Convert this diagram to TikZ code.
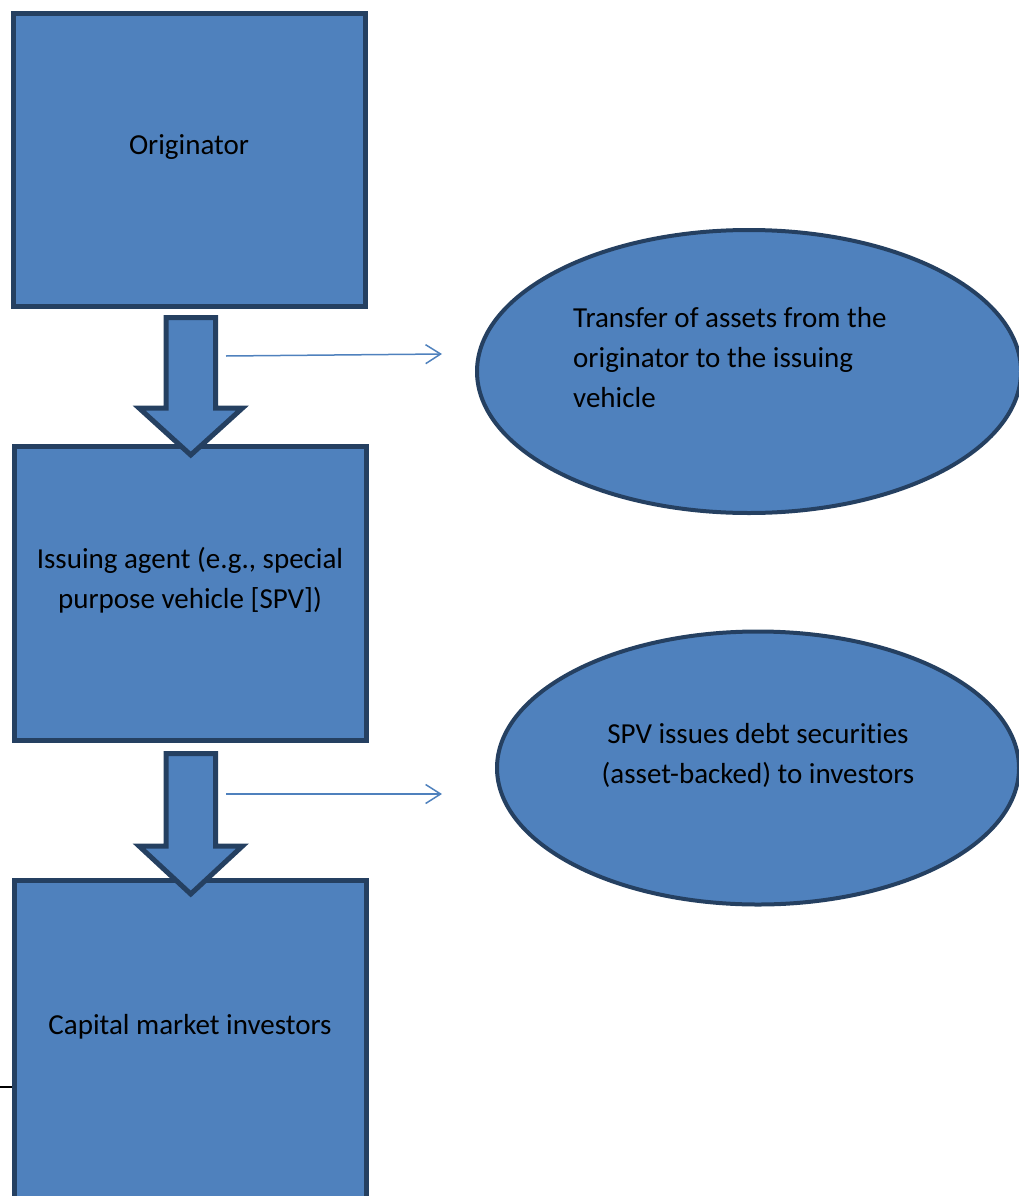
\documentclass[tikz,border=0pt]{standalone}
\usepackage{fontspec}
\setmainfont[Ligatures=NoCommon]{Carlito}
\usetikzlibrary{shapes.geometric,arrows.meta}
\definecolor{boxfill}{RGB}{79,129,189}
\definecolor{boxedge}{RGB}{37,64,97}
\begin{document}
\begin{tikzpicture}[
                            x=1pt, y=-1pt,
                            box/.style={draw=boxedge, fill=boxfill, line width=5pt, rectangle, inner sep=0pt},
                            oval/.style={draw=boxedge, fill=boxfill, line width=4pt, ellipse, inner sep=0pt},
                            lbl/.style={font=\fontsize{29}{40}\selectfont, align=center, inner sep=0pt},
                            bigarrow/.style={draw=boxedge, fill=boxfill, line width=5pt},
                            thin/.style={draw=boxfill, line width=1.5pt, -{Straight Barb[length=15pt,width=19pt]}}
                            ]

                            \useasboundingbox (0,0) rectangle (1018,1196);

                            \node [box, minimum width=352pt, minimum height=292pt] (orig) at (189,160) {};
                            \node [box, minimum width=352pt, minimum height=294pt] (spv) at (190,593) {};
                            \node [box, minimum width=352pt, minimum height=400pt] (cap) at (190.75,1080) {};

                            \node [oval, minimum width=544pt, minimum height=283pt] (transfer) at (749,371.5) {};
                            \node [oval, minimum width=522pt, minimum height=273pt] (issue) at (758,768) {};

                            \node [lbl] (origtxt) at (189,147) {Originator};
                            \node [lbl] (spvtxt) at (190,580) {Issuing agent (e.g., special\\purpose vehicle [SPV])};
                            \node [lbl] (captxt) at (190,1027) {Capital market investors};
                            \node [lbl, align=left, anchor=west] (transfertxt) at (573,358) {Transfer of assets from the\\originator to the issuing\\vehicle};
                            \node [lbl] (issuetxt) at (758,755) {SPV issues debt securities\\(asset-backed) to investors};

                            \draw[bigarrow] (166,317.5) -- (215.5,317.5) -- (215.5,408) -- (242.5,408) -- (190.75,455) -- (139,408) -- (166,408) -- cycle;
                            \draw[bigarrow] (166,753.5) -- (215.5,753.5) -- (215.5,846) -- (242.5,846) -- (190.75,894) -- (139,846) -- (166,846) -- cycle;

                            \coordinate (a1) at (226,356);
                            \coordinate (b1) at (442,354);
                            \coordinate (a2) at (226,794);
                            \coordinate (b2) at (442,794);
                            \draw[thin] (a1) -- (b1);
                            \draw[thin] (a2) -- (b2);

                            \coordinate (stub) at (0,1087);
                            \draw[line width=2pt] (stub) -- (stub -| cap.west);
                        \end{tikzpicture}
\end{document}
